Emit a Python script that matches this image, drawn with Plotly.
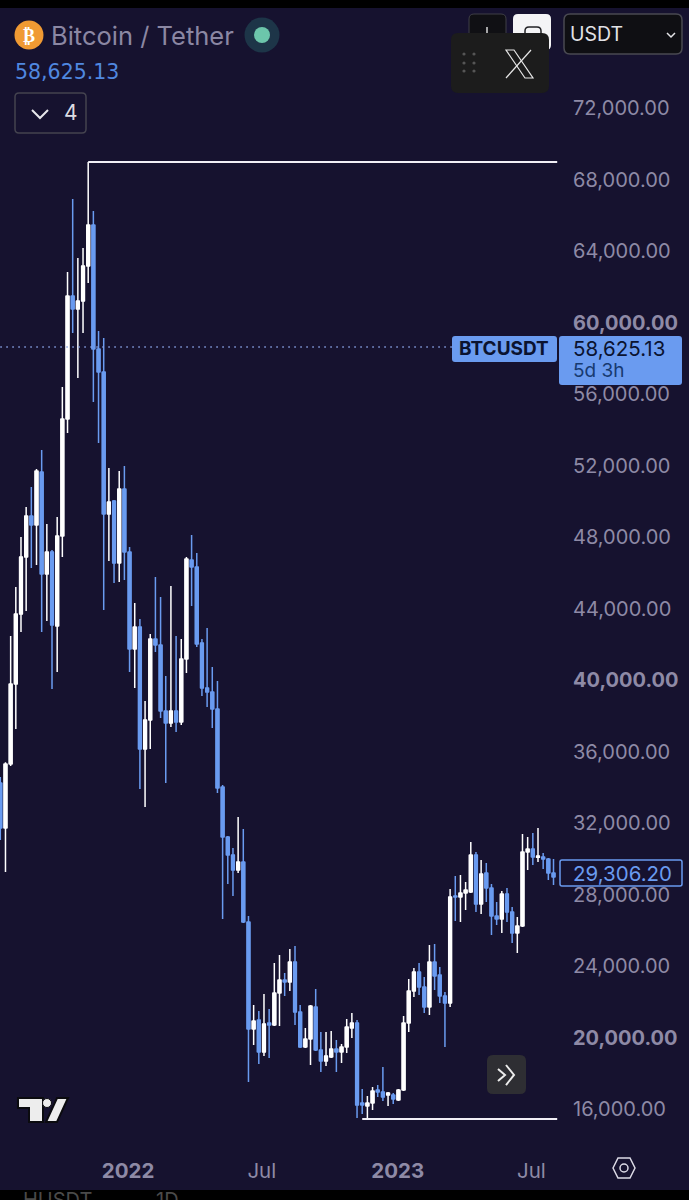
"""BTCUSDT weekly chart, dark TradingView style, with the app chrome around it."""

import pandas as pd
import plotly.graph_objects as go

week_starts = pd.date_range("2021-07-12", periods=108, freq="7D").strftime("%Y-%m-%d").tolist()

opens = [
    34240, 31723, 35303, 39778, 43694, 46882, 49176, 48673, 51637, 45931, 47162, 43023,
    48057, 54602, 61483, 60756, 61203, 63161, 65455, 58518, 57231, 49288, 50015, 46547,
    50686, 47162, 41736, 42967, 36142, 37764, 42295, 41960, 38268, 37596, 38268, 37652,
    41177, 46715, 46323, 42072, 39554, 39331, 38380, 34016, 31219, 30212, 29373, 29821,
    26464, 20479, 20982, 19192, 20814, 20703, 22493, 23220, 23108, 24227, 21430, 19472,
    19919, 21709, 19304, 18689, 18912, 19360, 19192, 19472, 20535, 20814, 16339, 16171,
    16339, 17066, 16955, 16787, 16787, 16507, 17066, 20814, 22604, 23667, 22828, 21709,
    24227, 23499, 22325, 21933, 27919, 27863, 28087, 28143, 30212, 27471, 29205, 28366,
    26800, 26632, 28031, 27024, 25849, 26241, 30380, 30548, 30100, 30100, 29989, 29205,
]
highs = [
    34576, 35400, 42463, 45204, 48001, 49679, 50798, 51805, 52868, 48728, 47274, 49120,
    56392, 62825, 66909, 63608, 64168, 68979, 66238, 59525, 59133, 51861, 50071, 51693,
    51973, 47442, 44309, 43414, 38827, 42575, 45764, 44645, 40226, 45260, 42463, 42295,
    46882, 48113, 47106, 42295, 42911, 40729, 39946, 34128, 31275, 30604, 32338, 31667,
    26800, 21821, 21486, 22437, 21598, 24171, 24618, 23611, 24954, 25122, 21821, 20535,
    21821, 22716, 20311, 20311, 20367, 19863, 19640, 21038, 21374, 20982, 17122, 16731,
    17234, 17346, 18353, 16955, 16899, 17122, 21206, 23276, 23891, 24171, 23388, 25178,
    25234, 23947, 22549, 28310, 29038, 29094, 28702, 30940, 30380, 29933, 29765, 28590,
    27583, 28198, 28366, 27303, 26744, 31387, 31219, 31443, 31723, 30324, 30044, 29989,
]
lows = [
    31051, 29261, 35191, 37261, 42687, 43862, 46267, 46435, 42687, 43302, 39498, 40449,
    46882, 53819, 59413, 56896, 59413, 62210, 55553, 53260, 43918, 46659, 45428, 45484,
    45596, 40449, 39554, 33904, 32897, 36142, 41568, 37876, 34240, 37373, 37093, 37485,
    40393, 44141, 41848, 39107, 38491, 37317, 33681, 26632, 28590, 27919, 29205, 26408,
    17514, 19584, 18521, 18968, 18856, 20647, 20647, 22325, 22604, 20703, 19416, 19416,
    18465, 19248, 18073, 18409, 18856, 18073, 18577, 19136, 19975, 15500, 15724, 15500,
    15948, 16675, 16451, 16171, 16283, 16451, 17010, 20311, 22269, 22381, 21374, 21262,
    22660, 21933, 19472, 21709, 26520, 26464, 27136, 28087, 27024, 26912, 27583, 25737,
    26297, 25849, 26464, 25290, 24730, 26185, 29373, 29653, 29821, 29429, 28814, 28534,
]
closes = [
    31723, 35303, 39778, 43694, 46882, 49176, 48673, 51693, 45931, 47162, 43079, 48057,
    54602, 61483, 60756, 61203, 63161, 65455, 58518, 57231, 49288, 49959, 46547, 50686,
    47162, 41736, 42967, 36142, 37764, 42295, 41960, 38268, 37596, 38268, 37652, 41177,
    46771, 46323, 42016, 39554, 39331, 38380, 33960, 31219, 30212, 29373, 29821, 26464,
    20479, 20926, 19192, 20758, 20703, 22493, 23220, 23108, 24227, 21430, 19472, 19919,
    21765, 19304, 18689, 18968, 19360, 19192, 19472, 20591, 20814, 16227, 16227, 16339,
    17010, 16955, 16675, 16899, 16563, 17066, 20814, 22604, 23667, 22828, 21709, 24227,
    23444, 22325, 21933, 27863, 27863, 28087, 28254, 30212, 27471, 29149, 28366, 26800,
    26632, 28031, 27024, 25849, 26241, 30380, 30548, 30100, 30156, 29989, 29205, 28982,
]

last_date = "2023-08-05"
last_price = 58625.13
mark_price = 29306.20
high_level = 68979
high_start = "2021-11-08"
low_level = 15444
low_start = "2022-11-14"

price_ticks = [16000, 20000, 24000, 28000, 32000, 36000, 40000, 44000, 48000, 52000, 56000, 60000, 64000, 68000, 72000]
bold_ticks = [20000, 40000, 60000]
time_ticks = ["2022-01-01", "2022-07-01", "2023-01-01", "2023-07-01"]
time_labels = ["<b>2022</b>", "Jul", "<b>2023</b>", "Jul"]

BG = "#16122f"
BLUE = "#6a9bf0"
AXIS_TEXT = "#8e8aa6"
W, H = 689, 1200
FONT = "Inter"
BODY_WIDTH_MS = 5.8 * 24 * 3600 * 1000


def px(x):
    return x / W


def py(y):
    return 1 - y / H


def path(points, close=True):
    cmds = [f"{'M' if i == 0 else 'L'}{px(x):.5f},{py(y):.5f}" for i, (x, y) in enumerate(points)]
    return " ".join(cmds) + (" Z" if close else "")


def rounded(x0, y0, x1, y1, r):
    a = lambda x, y: f"{px(x):.5f},{py(y):.5f}"
    return (
        f"M{a(x0 + r, y0)} L{a(x1 - r, y0)} Q{a(x1, y0)} {a(x1, y0 + r)} "
        f"L{a(x1, y1 - r)} Q{a(x1, y1)} {a(x1 - r, y1)} "
        f"L{a(x0 + r, y1)} Q{a(x0, y1)} {a(x0, y1 - r)} "
        f"L{a(x0, y0 + r)} Q{a(x0, y0)} {a(x0 + r, y0)} Z"
    )


def box(x0, y0, x1, y1, r, fill, line=None, width=1):
    return dict(
        type="path", xref="paper", yref="paper", layer="above", path=rounded(x0, y0, x1, y1, r),
        fillcolor=fill, line=dict(color=line or "rgba(0,0,0,0)", width=width if line else 0),
    )


def stroke(points, color, width=2, close=False, fill="rgba(0,0,0,0)"):
    return dict(
        type="path", xref="paper", yref="paper", layer="above", path=path(points, close),
        fillcolor=fill, line=dict(color=color, width=width),
    )


def dot(cx, cy, r, fill, line=None, width=0):
    return dict(
        type="circle", xref="paper", yref="paper", layer="above",
        x0=px(cx - r), x1=px(cx + r), y0=py(cy + r), y1=py(cy - r),
        fillcolor=fill, line=dict(color=line or "rgba(0,0,0,0)", width=width),
    )


def label(x, y, text, size, color, anchor="left", family=FONT):
    return dict(
        xref="paper", yref="paper", x=px(x), y=py(y), text=text, showarrow=False,
        xanchor=anchor, yanchor="middle", borderpad=0,
        font=dict(family=family, size=size, color=color),
    )


fig = go.Figure()

# candlestick bodies are too narrow on their own, so wider bars sit behind the wicks
body_base = [min(o, c) for o, c in zip(opens, closes)]
body_size = [abs(o - c) for o, c in zip(opens, closes)]
body_color = ["#ffffff" if c >= o else BLUE for o, c in zip(opens, closes)]
fig.add_trace(go.Bar(
    x=week_starts, y=body_size, base=body_base, width=BODY_WIDTH_MS,
    marker=dict(color=body_color, line=dict(width=0)), hoverinfo="skip",
))
fig.add_trace(go.Candlestick(
    x=week_starts, open=opens, high=highs, low=lows, close=closes,
    increasing=dict(line=dict(color="#ffffff", width=1.5), fillcolor="#ffffff"),
    decreasing=dict(line=dict(color=BLUE, width=1.5), fillcolor=BLUE),
    whiskerwidth=0,
))
fig.add_trace(go.Scatter(
    x=[week_starts[0], last_date], y=[last_price, last_price], mode="lines",
    line=dict(color="#8aa2e6", width=1.5, dash="1.5px 4.5px"), hoverinfo="skip",
))
fig.add_trace(go.Scatter(
    x=[high_start, last_date], y=[high_level, high_level], mode="lines",
    line=dict(color="#f1eff6", width=2), hoverinfo="skip",
))
fig.add_trace(go.Scatter(
    x=[low_start, last_date], y=[low_level, low_level], mode="lines",
    line=dict(color="#f1eff6", width=2), hoverinfo="skip",
))

shapes = [
    # top and bottom strips of the screenshot
    dict(type="rect", xref="paper", yref="paper", layer="above", x0=0, x1=1, y0=py(8), y1=1,
         fillcolor="#000000", line=dict(width=0)),
    dict(type="rect", xref="paper", yref="paper", layer="above", x0=0, x1=1, y0=0, y1=py(1190),
         fillcolor="#000000", line=dict(width=0)),
    # header
    dot(29, 35, 14.5, "#f09a33"),
    dot(262, 35, 17.5, "#1d3548"),
    dot(262, 35, 8, "#6cc6ab"),
    box(15, 93, 86, 133, 4, "rgba(0,0,0,0)", "#44434f", 1.5),
    stroke([(32, 110), (40, 118), (48, 110)], "#e8e8ec", 2),
    # toolbar
    box(469, 14, 506, 50, 5, "#101014", "#3f3f46", 1),
    stroke([(487, 27), (487, 33)], "#d8d8d8", 1.5),
    box(513, 14, 551, 50, 5, "#f4f4f6"),
    box(525, 27, 541, 44, 4, "rgba(0,0,0,0)", "#222226", 1.5),
    box(564, 14, 682, 54, 6, "#0f0f13", "#4a4a52", 1.5),
    stroke([(667, 33), (671, 37), (675, 33)], "#e4e4e8", 1.5),
    # X widget
    box(451, 33, 549, 93, 7, "#1c1c1c"),
    stroke([(506, 50), (514, 50), (533, 78), (525, 78)], "#e6e6e6", 1.2, close=True),
    stroke([(531, 50), (506, 78)], "#e6e6e6", 1.2),
    # price labels
    box(452, 336, 557, 362, 3, BLUE),
    box(559, 336, 682, 385, 3, BLUE),
    box(560, 860, 682, 886, 2, BG, BLUE, 1.5),
    # scroll button
    box(487, 1055, 526, 1094, 6, "#2e2e33"),
    stroke([(498, 1069), (505, 1075), (498, 1081)], "#ececec", 2),
    stroke([(506, 1065), (514, 1075), (506, 1085)], "#ececec", 2),
    # TradingView mark
    stroke([(18, 1098), (43, 1098), (43, 1122), (29, 1122), (29, 1108), (18, 1108)],
           "#0b0b0f", 2, close=True, fill="#ededed"),
    dot(47, 1103, 4.5, "#ededed", "#0b0b0f", 1),
    stroke([(57, 1098), (68, 1098), (57, 1122), (46, 1122)], "#0b0b0f", 2, close=True, fill="#ededed"),
    # settings
    stroke([(613, 1168), (618, 1158), (630, 1158), (635, 1168), (630, 1178), (618, 1178)],
           "#dcdae6", 1.5, close=True),
    dot(624, 1168, 4, "rgba(0,0,0,0)", "#dcdae6", 1.5),
]
for gx in (464, 474):
    for gy in (54, 63, 71):
        shapes.append(dot(gx, gy, 1.6, "#555555"))

annotations = [
    label(29, 35, "<b>₿</b>", 18, "#ffffff", "center", "DejaVu Sans"),
    label(50, 35, "Bitcoin / Tether", 25.5, "#8b87a3"),
    label(14, 72, "58,625.13", 20.5, "#5088e0", family="DejaVu Sans"),
    label(71, 113, "4", 21, "#dcdce2", "center"),
    label(569, 34, "USDT", 19.5, "#e2e2e6"),
    label(504, 349, "<b>BTCUSDT</b>", 19, "#0b1330", "center"),
    label(572, 349, "58,625.13", 20.5, "#0b1330"),
    label(572, 371, "5d 3h", 19, "#173a70"),
    label(572, 873, "29,306.20", 20.5, BLUE),
    label(22, 1200, "HUSDT", 20, "#4a4a4a"),
    label(155, 1200, "1D", 20, "#4a4a4a"),
]

fig.update_layout(
    width=W, height=H, margin=dict(l=0, r=0, t=0, b=0), autosize=False,
    paper_bgcolor=BG, plot_bgcolor=BG, showlegend=False,
    font=dict(family=FONT, size=20, color=AXIS_TEXT),
    shapes=shapes, annotations=annotations,
    xaxis=dict(
        type="date", domain=[0, 558 / W], range=["2021-07-11 14:00", "2023-08-06 02:00"],
        rangeslider=dict(visible=False), showgrid=False, zeroline=False, showline=False,
        tickmode="array", tickvals=time_ticks, ticktext=time_labels, ticks="", ticklabelstandoff=6,
        tickfont=dict(size=20.5, color=AXIS_TEXT),
    ),
    yaxis=dict(
        side="right", domain=[1 - 1150 / H, 1], range=[13710, 78041], showgrid=False, zeroline=False,
        showline=False, tickmode="array", tickvals=price_ticks,
        ticktext=[f"<b>{v:,.2f}</b>" if v in bold_ticks else f"{v:,.2f}" for v in price_ticks],
        ticks="", ticklabelstandoff=14, tickfont=dict(size=20, color=AXIS_TEXT),
    ),
)

fig.write_html(
    "out.html",
    config=dict(displayModeBar=False),
    post_script="document.body.style.margin='0';document.body.style.background='#16122f';",
)
